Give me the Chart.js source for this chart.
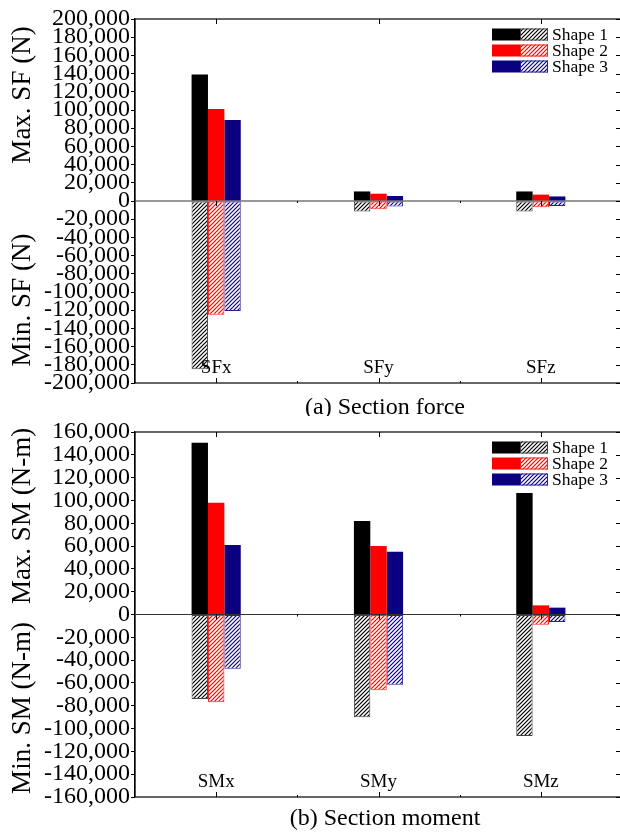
<!DOCTYPE html>
<html lang="en">
<head>
<meta charset="UTF-8">
<title>Section force and section moment</title>
<script src="https://cdn.jsdelivr.net/npm/chart.js"></script>
<style>
    html, body {
        margin: 0;
        padding: 0;
        background: #fff;
        overflow: hidden;
    }
    .panel {
        position: absolute;
        left: 0;
        width: 624px;
    }
    #forcePanel { top: 0; height: 416px; }
    #momentPanel { top: 416px; height: 417px; }
</style>
</head>
<body>
<div class="panel" id="forcePanel"><canvas id="forceChart" width="624" height="416"></canvas></div>
<div class="panel" id="momentPanel"><canvas id="momentChart" width="624" height="417"></canvas></div>
<script>
// section force (N)
const forceLabels = ['SFx', 'SFy', 'SFz'];
const forceMax1 = [139000, 10500, 10500];
const forceMax2 = [101000, 8000, 7000];
const forceMax3 = [89000, 5500, 5000];
const forceMin1 = [-185000, -11500, -11500];
const forceMin2 = [-125000, -9000, -7000];
const forceMin3 = [-121000, -6000, -5500];

// section moment (N-m)
const momentLabels = ['SMx', 'SMy', 'SMz'];
const momentMax1 = [150500, 82000, 106500];
const momentMax2 = [98000, 60000, 8000];
const momentMax3 = [61000, 55000, 6000];
const momentMin1 = [-74000, -90000, -106500];
const momentMin2 = [-77000, -66500, -9000];
const momentMin3 = [-47500, -61500, -6500];

const shapeNames = ['Shape 1', 'Shape 2', 'Shape 3'];
const shapeColors = ['#000000', '#ff0000', '#0a0080'];
const hatchEdges = ['#444444', '#ff2020', '#2a2090'];

const FONT = '"Liberation Serif", "Times New Roman", serif';

function makeHatch(color) {
    const c = document.createElement('canvas');
    c.width = 4;
    c.height = 4;
    const g = c.getContext('2d');
    g.fillStyle = '#fff';
    g.fillRect(0, 0, 4, 4);
    g.strokeStyle = color;
    g.lineWidth = 1.2;
    g.beginPath();
    g.moveTo(-1, 5); g.lineTo(5, -1);
    g.moveTo(-1, 1); g.lineTo(1, -1);
    g.moveTo(3, 5); g.lineTo(5, 3);
    g.stroke();
    return g.createPattern(c, 'repeat');
}
const hatches = shapeColors.map(makeHatch);

function buildDatasets(maxes, mins) {
    const sets = [];
    for (let i = 0; i < 3; i++) {
        sets.push({
            label: shapeNames[i],
            data: maxes[i],
            backgroundColor: shapeColors[i],
            borderColor: shapeColors[i],
            borderWidth: 0,
            stack: 's' + i
        });
        sets.push({
            label: shapeNames[i] + ' min',
            data: mins[i],
            backgroundColor: hatches[i],
            borderColor: hatchEdges[i],
            borderWidth: 1,
            borderSkipped: false,
            stack: 's' + i
        });
    }
    return sets;
}

// axes box, zero line, category names, legend, titles and caption
function framePlugin(opts) {
    return {
        id: 'frame',
        afterDatasetsDraw(chart) {
            const ctx = chart.ctx;
            const a = chart.chartArea;
            const x = chart.scales.x;
            const y = chart.scales.y;
            const y0 = y.getPixelForValue(0);
            ctx.save();
            ctx.strokeStyle = '#000';
            ctx.lineWidth = 1.2;
            ctx.strokeRect(a.left, a.top, a.right - a.left, a.bottom - a.top);

            ctx.strokeStyle = '#333';
            ctx.lineWidth = 1;
            ctx.beginPath();
            ctx.moveTo(a.left, y0);
            ctx.lineTo(a.right, y0);
            ctx.stroke();

            // x ticks: major at categories, minor between them
            ctx.strokeStyle = '#000';
            const n = chart.data.labels.length;
            ctx.beginPath();
            for (let i = 0; i < n; i++) {
                const px = Math.round(x.getPixelForValue(i)) + 0.5;
                ctx.moveTo(px, a.bottom); ctx.lineTo(px, a.bottom - 5);
                ctx.moveTo(px, a.top); ctx.lineTo(px, a.top + 5);
                ctx.moveTo(px, y0); ctx.lineTo(px, y0 + 5);
                if (i < n - 1) {
                    const mx = Math.round(x.getPixelForValue(i + 0.5)) + 0.5;
                    ctx.moveTo(mx, a.bottom); ctx.lineTo(mx, a.bottom - 2);
                    ctx.moveTo(mx, y0); ctx.lineTo(mx, y0 + 2);
                }
            }
            // right axis ticks
            y.ticks.forEach(t => {
                const py = Math.round(y.getPixelForValue(t.value)) + 0.5;
                ctx.moveTo(a.right - 6, py); ctx.lineTo(a.right, py);
            });
            ctx.stroke();

            // category names inside the plot
            ctx.fillStyle = '#000';
            ctx.font = '19px ' + FONT;
            ctx.textAlign = 'center';
            ctx.textBaseline = 'middle';
            chart.data.labels.forEach((lab, i) => {
                ctx.fillText(lab, x.getPixelForValue(i), a.bottom - 15);
            });

            // legend: solid + hatched swatch per shape
            ctx.font = '17.5px ' + FONT;
            ctx.textAlign = 'left';
            for (let i = 0; i < 3; i++) {
                const cy = a.top + 15.5 + i * 16;
                ctx.fillStyle = shapeColors[i];
                ctx.fillRect(492, cy - 6, 28, 12);
                ctx.fillStyle = hatches[i];
                ctx.fillRect(520, cy - 6, 28, 12);
                ctx.strokeStyle = hatchEdges[i];
                ctx.lineWidth = 1;
                ctx.strokeRect(520.5, cy - 5.5, 27, 11);
                ctx.fillStyle = '#000';
                ctx.fillText(shapeNames[i], 552, cy + 1);
            }

            // y titles
            ctx.font = '27px ' + FONT;
            ctx.textAlign = 'center';
            opts.titles.forEach(t => {
                ctx.save();
                ctx.translate(23, t.cy);
                ctx.rotate(-Math.PI / 2);
                ctx.fillText(t.text, 0, 0);
                ctx.restore();
            });

            // caption
            ctx.font = '24px ' + FONT;
            ctx.fillText(opts.caption, 385, a.bottom + opts.captionGap);
            ctx.restore();
        }
    };
}

function makeChart(id, labels, datasets, range, pad, opts) {
    return new Chart(document.getElementById(id), {
        type: 'bar',
        data: { labels: labels, datasets: datasets },
        options: {
            responsive: false,
            animation: false,
            devicePixelRatio: 1,
            layout: { padding: pad },
            datasets: {
                bar: { categoryPercentage: 0.303, barPercentage: 1.0 }
            },
            plugins: {
                legend: { display: false },
                tooltip: { enabled: false }
            },
            scales: {
                x: {
                    stacked: true,
                    offset: true,
                    grid: { display: false },
                    border: { display: false },
                    ticks: { display: false },
                    afterFit: s => { s.height = 0; }
                },
                y: {
                    stacked: true,
                    min: -range,
                    max: range,
                    grid: {
                        drawOnChartArea: false,
                        tickLength: 4,
                        tickColor: '#000'
                    },
                    border: { color: '#000', width: 1.2 },
                    ticks: {
                        stepSize: 20000,
                        autoSkip: false,
                        color: '#000',
                        padding: 1,
                        font: { family: FONT, size: 24, lineHeight: 0.7 },
                        callback: v => v.toLocaleString('en-US')
                    },
                    afterFit: s => { s.width = 135; }
                }
            }
        },
        plugins: [framePlugin(opts)]
    });
}

makeChart('forceChart', forceLabels,
    buildDatasets([forceMax1, forceMax2, forceMax3], [forceMin1, forceMin2, forceMin3]),
    200000,
    { top: 19, bottom: 33, left: 0, right: 2 },
    {
        titles: [{ text: 'Max. SF (N)', cy: 95 }, { text: 'Min. SF (N)', cy: 300 }],
        caption: '(a) Section force',
        captionGap: 25
    });

makeChart('momentChart', momentLabels,
    buildDatasets([momentMax1, momentMax2, momentMax3], [momentMin1, momentMin2, momentMin3]),
    160000,
    { top: 16, bottom: 36, left: 0, right: 2 },
    {
        titles: [{ text: 'Max. SM (N-m)', cy: 100 }, { text: 'Min. SM (N-m)', cy: 292 }],
        caption: '(b) Section moment',
        captionGap: 22
    });
</script>
</body>
</html>
